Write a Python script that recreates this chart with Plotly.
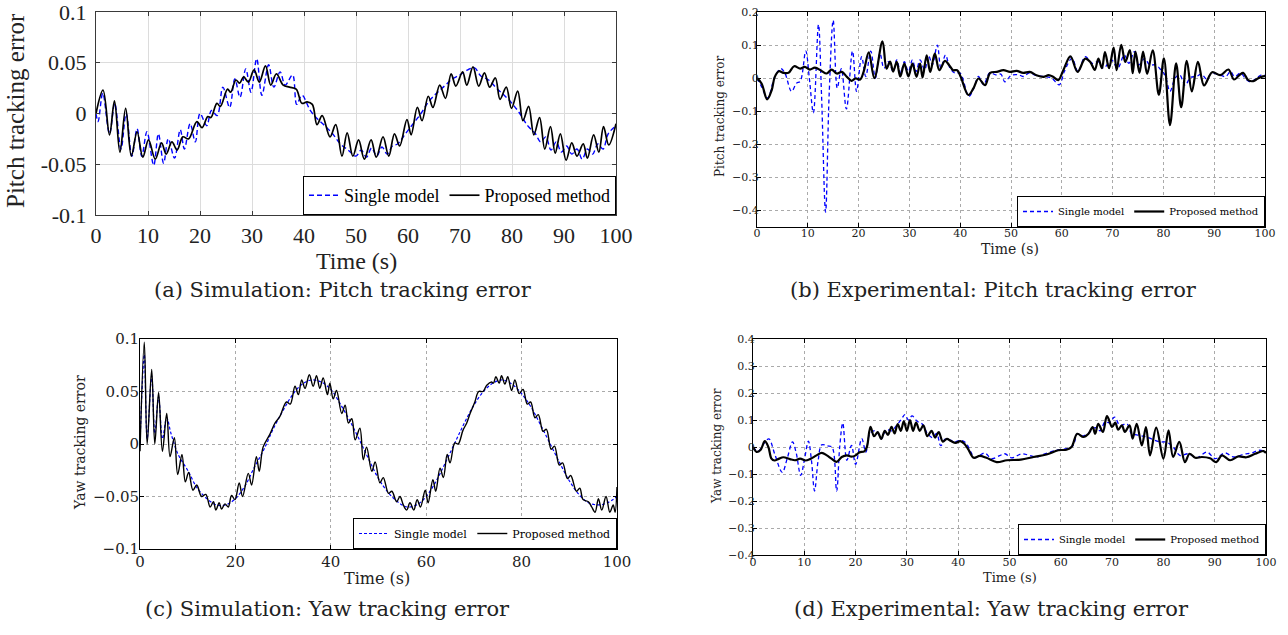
import plotly.graph_objects as go

W, H = 1288, 635
TIMES = "Liberation Serif"
ROMAN = "DejaVu Serif"

# ---------------- data: (time [s], tracking error) ----------------
# (a) simulation, pitch
sim_pitch_single = [
    (0, 0.0), (0.4, -0.008), (1.3, 0.02), (2.6, -0.02), (3.6, 0.01), (4.8, -0.035),
    (5.8, 0.0), (6.9, -0.042), (7.9, -0.015), (8.8, -0.042), (9.8, -0.018), (11.1, -0.051),
    (12.0, -0.020), (13.0, -0.049), (13.9, -0.025), (15.1, -0.044), (16.2, -0.016), (17.0, -0.035),
    (18.1, -0.010), (19.1, -0.028), (20.0, 0.0), (21.3, -0.012), (22.2, 0.003), (23.3, -0.002),
    (24.4, 0.026), (25.7, 0.006), (26.7, 0.034), (27.7, 0.016), (28.8, 0.044), (29.8, 0.021),
    (30.9, 0.054), (31.9, 0.018), (33.2, 0.048), (34.2, 0.026), (35.4, 0.041), (36.4, 0.028),
    (37.8, 0.038), (38.6, 0.009), (39.6, 0.018), (41.2, 0.003), (42.5, -0.005), (44.0, -0.012),
    (45.5, -0.02), (47.0, -0.03), (48.5, -0.036), (50.0, -0.042), (51.0, -0.036), (52.0, -0.043),
    (53.0, -0.034), (54.0, -0.042), (55.0, -0.033), (56.0, -0.04), (57.0, -0.032), (58.0, -0.03),
    (59.5, -0.02), (61.0, -0.01), (62.5, 0.0), (64.0, 0.012), (65.5, 0.02), (67.0, 0.027),
    (68.5, 0.034), (70.0, 0.038), (71.5, 0.043), (72.8, 0.045), (74.0, 0.037), (75.5, 0.033),
    (77.0, 0.025), (78.5, 0.018), (80.0, 0.01), (81.5, 0.0), (83.0, -0.012), (84.5, -0.02),
    (85.5, -0.028), (86.5, -0.023), (87.5, -0.036), (88.5, -0.028), (89.5, -0.038), (90.5, -0.032),
    (91.5, -0.04), (92.5, -0.035), (93.5, -0.045), (94.5, -0.035), (95.5, -0.04), (96.5, -0.03),
    (97.5, -0.035), (98.5, -0.02), (100, -0.012),
]
sim_pitch_proposed = [
    (0, 0.0), (1.35, 0.023), (2.6, -0.021), (3.55, 0.0125), (4.6, -0.038), (5.7, 0.005),
    (6.8, -0.042), (7.9, -0.018), (9.0, -0.043), (10.1, -0.026), (11.4, -0.045), (12.6, -0.029),
    (13.5, -0.040), (14.6, -0.028), (15.6, -0.036), (16.7, -0.023), (17.8, -0.025), (19.4, -0.008),
    (20.4, -0.014), (21.5, -0.003), (22.1, -0.004), (23.25, 0.010), (23.9, 0.007), (25.3, 0.024),
    (25.9, 0.021), (26.9, 0.033), (27.6, 0.030), (28.4, 0.036), (29.3, 0.031), (30.4, 0.043),
    (31.4, 0.031), (32.6, 0.047), (33.6, 0.028), (34.7, 0.039), (36.0, 0.028), (37.2, 0.026),
    (38.5, 0.024), (39.6, 0.010), (40.6, 0.0115), (41.6, 0.009), (42.5, -0.011), (43.5, -0.002),
    (45.0, -0.023), (46.1, -0.011), (47.3, -0.042), (48.3, -0.019), (49.4, -0.042), (50.5, -0.026),
    (51.6, -0.045), (52.9, -0.026), (53.9, -0.043), (55.2, -0.023), (56.3, -0.042), (57.4, -0.020),
    (58.4, -0.032), (59.8, -0.006), (60.6, -0.021), (61.8, 0.006), (62.7, -0.007), (63.9, 0.017),
    (64.8, 0.006), (66.1, 0.028), (67.2, 0.015), (68.3, 0.039), (69.2, 0.027), (70.5, 0.041),
    (71.3, 0.028), (72.5, 0.046), (73.6, 0.027), (74.7, 0.040), (75.7, 0.026), (76.8, 0.035),
    (77.7, 0.014), (78.9, 0.026), (79.9, 0.005), (81.1, 0.022), (82.1, -0.007), (83.2, 0.007),
    (84.2, -0.021), (85.3, -0.004), (86.3, -0.035), (87.4, -0.013), (88.3, -0.039), (89.3, -0.020),
    (90.4, -0.046), (91.5, -0.029), (92.5, -0.042), (93.7, -0.030), (94.5, -0.044), (95.7, -0.021),
    (96.7, -0.038), (97.6, -0.013), (98.6, -0.031), (100, -0.010),
]

# (b) experiment, pitch
exp_pitch_single = [
    (0, 0.0), (0.9, -0.026), (2.1, -0.06), (3.5, 0.004), (4.7, 0.029), (5.5, 0.015),
    (6.8, -0.04), (7.8, -0.015), (8.5, -0.01), (9.6, 0.082), (10.3, 0.0), (11.1, -0.105),
    (12.1, 0.162), (12.7, -0.05), (13.5, -0.405), (14.2, -0.05), (15.0, 0.175), (15.8, -0.03),
    (16.6, 0.029), (17.6, -0.093), (18.8, 0.082), (19.6, -0.04), (20.6, 0.065), (21.4, 0.005),
    (22.4, 0.082), (23.3, 0.0), (24.2, 0.075), (25.0, 0.03), (25.9, 0.05), (26.8, 0.02),
    (27.5, 0.055), (28.3, 0.015), (29.0, 0.05), (29.8, 0.02), (30.6, 0.055), (31.3, 0.02),
    (32.1, 0.055), (33.0, 0.025), (33.8, 0.068), (34.5, 0.04), (35.5, 0.1), (36.2, 0.03),
    (37.1, 0.07), (38.0, 0.03), (39.0, 0.015), (40.0, 0.015), (41.7, -0.055), (42.7, -0.03),
    (43.6, 0.005), (44.6, -0.02), (45.8, 0.016), (47.0, 0.01), (48.0, 0.012), (48.8, -0.011),
    (50.0, 0.008), (51.5, 0.01), (52.5, 0.005), (53.5, 0.015), (55.0, 0.008), (56.5, 0.005),
    (58.0, 0.0), (59.5, -0.02), (60.5, 0.02), (62.0, 0.06), (63.2, 0.02), (64.6, 0.065),
    (66.0, 0.045), (67.2, 0.05), (68.2, 0.03), (69.8, 0.055), (71.0, 0.03), (72.3, 0.07),
    (73.2, 0.045), (74.3, 0.08), (75.2, 0.04), (76.3, 0.06), (77.3, 0.04), (78.5, 0.04),
    (79.5, 0.025), (80.3, 0.01), (81.3, -0.04), (82.3, 0.0), (83.2, 0.01), (84.3, -0.022),
    (85.3, 0.002), (86.5, 0.005), (87.5, 0.012), (88.5, -0.002), (89.5, 0.015), (91.0, 0.01),
    (92.3, 0.005), (93.2, 0.02), (94.0, 0.005), (95.2, 0.015), (96.2, -0.002), (97.2, -0.012),
    (98.3, 0.0), (99.3, 0.01), (100, 0.008),
]
exp_pitch_proposed = [
    (0, 0.0), (0.9, -0.016), (2.0, -0.064), (2.9, -0.036), (3.5, 0.004), (4.3, 0.021),
    (5.2, 0.016), (6.2, 0.016), (7.3, 0.036), (8.5, 0.029), (9.4, 0.034), (10.4, 0.026),
    (11.4, 0.032), (12.7, 0.022), (13.7, 0.014), (14.7, 0.026), (15.7, 0.014), (16.7, 0.019),
    (17.7, 0.004), (18.6, -0.008), (19.4, -0.001), (20.3, -0.004), (21.0, 0.02), (22.0, 0.078),
    (23.1, 0.0), (24.7, 0.111), (25.5, 0.029), (26.2, 0.05), (26.8, 0.02), (27.5, 0.049),
    (28.2, 0.005), (29.0, 0.044), (29.8, 0.005), (30.6, 0.044), (31.4, 0.004), (32.1, 0.044),
    (32.6, 0.002), (33.4, 0.069), (34.1, 0.019), (35.0, 0.074), (35.9, 0.024), (37.0, 0.052),
    (37.8, 0.04), (38.6, 0.024), (39.4, 0.024), (40.1, 0.004), (41.6, -0.051), (42.6, -0.031),
    (43.6, -0.001), (44.9, -0.021), (45.9, 0.016), (47.2, 0.019), (48.5, 0.024), (49.8, 0.019),
    (51.1, 0.022), (52.4, 0.016), (53.7, 0.019), (55.0, 0.009), (56.4, 0.004), (57.4, 0.009),
    (58.3, 0.004), (59.3, -0.006), (60.3, 0.024), (61.7, 0.066), (63.1, 0.019), (64.6, 0.059),
    (65.6, 0.049), (66.5, 0.025), (67.2, 0.059), (67.9, 0.03), (68.5, 0.079), (69.3, 0.03),
    (70.2, 0.092), (70.8, 0.024), (71.7, 0.101), (72.5, 0.049), (73.4, 0.085), (73.95, 0.015),
    (74.5, 0.08), (75.3, 0.016), (76.0, 0.08), (76.8, 0.013), (77.9, 0.084), (79.1, -0.05),
    (80.1, 0.06), (81.3, -0.142), (82.5, 0.045), (83.5, -0.088), (84.6, 0.052), (85.6, -0.04),
    (86.8, 0.049), (88.0, -0.022), (89.6, 0.018), (91.2, 0.009), (92.8, 0.026), (93.9, -0.004),
    (95.0, 0.01), (95.7, 0.016), (96.7, -0.006), (97.7, -0.009), (98.5, -0.002), (99.3, 0.004),
    (100, 0.006),
]

# (c) simulation, yaw
sim_yaw_single = [
    (0, 0.0), (0.9, 0.085), (1.5, 0.005), (2.45, 0.065), (3.1, 0.01), (3.9, 0.045),
    (4.7, 0.005), (5.6, 0.025), (6.5, 0.01), (8.0, -0.01), (10.0, -0.025), (12.0, -0.042),
    (14.0, -0.052), (16.0, -0.058), (18.0, -0.058), (20.0, -0.052), (22.0, -0.04), (24.0, -0.022),
    (26.0, -0.005), (28.0, 0.015), (30.0, 0.032), (32.0, 0.047), (34.0, 0.057), (36.0, 0.061),
    (38.0, 0.059), (40.0, 0.052), (42.0, 0.038), (44.0, 0.022), (46.0, 0.004), (48.0, -0.015),
    (50.0, -0.033), (52.0, -0.046), (54.0, -0.055), (56.0, -0.06), (58.0, -0.058), (60.0, -0.05),
    (62.0, -0.036), (64.0, -0.018), (66.0, 0.001), (68.0, 0.02), (70.0, 0.037), (72.0, 0.05),
    (74.0, 0.058), (76.0, 0.061), (78.0, 0.057), (80.0, 0.048), (82.0, 0.035), (84.0, 0.018),
    (86.0, 0.0), (88.0, -0.018), (90.0, -0.035), (92.0, -0.048), (94.0, -0.056), (96.0, -0.058),
    (98.0, -0.056), (100, -0.05),
]
sim_yaw_proposed = [
    (0, -0.007), (0.9, 0.097), (1.5, 0.0), (2.45, 0.071), (3.1, 0.0), (3.9, 0.049),
    (4.7, -0.007), (5.6, 0.029), (6.3, -0.012), (7.2, 0.006), (7.9, -0.029), (8.8, -0.010),
    (9.5, -0.036), (10.2, -0.027), (11.1, -0.044), (11.9, -0.039), (12.9, -0.050), (13.8, -0.048),
    (14.7, -0.060), (15.4, -0.055), (15.9, -0.063), (16.6, -0.056), (17.1, -0.062), (17.8, -0.057),
    (18.5, -0.060), (19.2, -0.049), (19.9, -0.053), (20.8, -0.037), (21.5, -0.050), (22.7, -0.028),
    (23.4, -0.039), (24.4, -0.012), (25.0, -0.026), (25.8, -0.003), (27.2, 0.009), (28.3, 0.02),
    (29.3, 0.026), (30.7, 0.040), (31.5, 0.038), (32.5, 0.055), (33.2, 0.047), (33.9, 0.061),
    (34.6, 0.053), (35.5, 0.066), (36.3, 0.055), (37.0, 0.065), (37.7, 0.053), (38.4, 0.063),
    (39.3, 0.047), (39.8, 0.058), (40.5, 0.043), (41.2, 0.051), (42.3, 0.029), (43.0, 0.037),
    (43.7, 0.020), (44.4, 0.024), (45.1, 0.004), (46.1, 0.015), (46.8, -0.015), (47.5, -0.003),
    (48.6, -0.026), (49.3, -0.017), (50.3, -0.037), (51.0, -0.032), (52.1, -0.047), (52.8, -0.045),
    (53.8, -0.055), (54.5, -0.050), (55.2, -0.058), (55.9, -0.063), (56.6, -0.056), (57.4, -0.063),
    (58.1, -0.053), (58.8, -0.060), (59.8, -0.044), (60.4, -0.056), (61.4, -0.034), (62.0, -0.045),
    (62.9, -0.023), (63.6, -0.032), (64.4, -0.010), (65.0, -0.018), (66.0, 0.001), (66.7, 0.0),
    (67.7, 0.013), (68.5, 0.02), (69.2, 0.029), (70.2, 0.04), (71.0, 0.050), (71.9, 0.05),
    (72.7, 0.056), (73.7, 0.059), (74.1, 0.058), (74.6, 0.064), (75.3, 0.058), (75.8, 0.065),
    (76.5, 0.057), (77.1, 0.064), (77.9, 0.051), (78.6, 0.061), (79.5, 0.048), (80.3, 0.052),
    (81.2, 0.038), (81.9, 0.040), (82.8, 0.025), (83.5, 0.028), (84.5, 0.012), (85.2, 0.014),
    (86.2, -0.005), (86.9, -0.002), (87.9, -0.02), (88.6, -0.018), (89.6, -0.033), (90.3, -0.030),
    (91.5, -0.045), (92.2, -0.042), (92.9, -0.053), (94.0, -0.055), (94.7, -0.060), (95.4, -0.065),
    (96.1, -0.052), (96.8, -0.063), (97.7, -0.050), (98.5, -0.065), (99.2, -0.058), (99.6, -0.065),
    (100, -0.041),
]

# (d) experiment, yaw
exp_yaw_single = [
    (0, 0.0), (1.0, -0.015), (2.2, 0.015), (3.1, 0.03), (4.3, -0.03), (5.7, -0.094),
    (6.7, -0.04), (7.7, 0.019), (8.4, -0.02), (9.3, -0.105), (10.0, -0.05), (10.8, 0.022),
    (11.4, -0.05), (12.0, -0.163), (12.7, -0.05), (13.4, 0.008), (14.5, 0.004), (15.4, 0.0),
    (16.3, -0.163), (16.9, 0.0), (17.5, 0.089), (18.3, -0.049), (19.2, 0.006), (20.0, -0.064),
    (21.2, 0.031), (22.0, -0.019), (22.8, 0.05), (24.0, 0.06), (25.0, 0.03), (26.0, 0.065),
    (27.0, 0.06), (28.0, 0.08), (29.0, 0.105), (29.6, 0.12), (30.3, 0.1), (31.0, 0.115),
    (32.0, 0.095), (33.0, 0.085), (34.0, 0.05), (35.0, 0.035), (35.8, 0.05), (36.6, 0.005),
    (37.5, 0.03), (38.5, 0.025), (39.5, 0.02), (40.5, 0.025), (41.5, 0.015), (42.5, -0.02),
    (43.2, -0.04), (44.2, -0.031), (45.2, -0.022), (46.5, -0.043), (48.1, -0.032), (49.1, -0.025),
    (50.4, -0.040), (52.4, -0.025), (53.7, -0.03), (55.3, -0.037), (56.9, -0.025), (59.2, -0.012),
    (61.1, -0.006), (62.4, 0.005), (63.2, 0.049), (64.1, 0.04), (65.3, 0.05), (66.7, 0.072),
    (67.7, 0.06), (68.6, 0.093), (69.5, 0.09), (70.5, 0.111), (71.5, 0.08), (72.9, 0.086),
    (73.8, 0.049), (74.8, 0.045), (76.7, 0.037), (79.3, 0.019), (80.6, 0.018), (81.9, 0.0),
    (83.2, -0.031), (84.9, -0.025), (86.5, -0.04), (88.5, -0.019), (90.1, -0.043), (92.0, -0.022),
    (93.7, -0.037), (95.6, -0.027), (97.2, -0.022), (98.7, -0.012), (100, -0.018),
]
exp_yaw_proposed = [
    (0, 0.0), (0.7, -0.018), (1.5, -0.01), (2.3, 0.022), (3.0, 0.0), (3.6, -0.043),
    (4.2, -0.05), (5.0, -0.044), (5.9, -0.038), (7.2, -0.045), (8.2, -0.049), (9.2, -0.043),
    (10.2, -0.05), (11.2, -0.044), (12.4, -0.031), (13.4, -0.022), (14.4, -0.031), (15.3, -0.043),
    (16.3, -0.055), (17.3, -0.037), (18.3, -0.031), (19.2, -0.036), (20.0, -0.031), (20.7, -0.02),
    (21.7, -0.016), (22.2, 0.0), (22.9, 0.075), (23.6, 0.04), (24.3, 0.055), (25.0, 0.03),
    (25.7, 0.06), (26.3, 0.045), (27.0, 0.075), (27.6, 0.05), (28.2, 0.085), (28.8, 0.06),
    (29.4, 0.095), (30.0, 0.06), (30.6, 0.1), (31.2, 0.06), (31.8, 0.09), (32.5, 0.06),
    (33.2, 0.08), (34.0, 0.04), (34.8, 0.06), (35.5, 0.035), (36.2, 0.055), (37.0, 0.02),
    (37.8, 0.03), (38.6, 0.022), (39.5, 0.015), (40.4, 0.022), (41.2, 0.012), (42.0, -0.01),
    (43.0, -0.04), (44.2, -0.033), (45.5, -0.04), (47.5, -0.056), (49.5, -0.049), (52.2, -0.047),
    (54.7, -0.037), (57.2, -0.028), (59.5, -0.012), (61.1, -0.01), (62.1, 0.0), (63.2, 0.049),
    (64.4, 0.037), (65.4, 0.049), (66.2, 0.074), (66.7, 0.049), (67.3, 0.086), (68.2, 0.056),
    (69.0, 0.114), (70.0, 0.074), (70.6, 0.09), (71.2, 0.064), (71.9, 0.08), (72.5, 0.056),
    (73.4, 0.08), (74.0, 0.031), (74.8, 0.086), (75.8, 0.006), (76.6, 0.074), (77.4, -0.031),
    (78.6, 0.072), (80.0, -0.043), (81.0, 0.062), (81.9, -0.037), (83.1, 0.019), (84.2, -0.056),
    (85.1, -0.025), (86.2, -0.04), (87.5, -0.037), (89.1, -0.042), (90.3, -0.056), (91.4, -0.031),
    (93.0, -0.049), (94.6, -0.035), (96.2, -0.038), (97.9, -0.025), (99.5, -0.015), (100, -0.022),
]

series_names = ["Single model", "Proposed method"]

time_ticks_10 = [0, 10, 20, 30, 40, 50, 60, 70, 80, 90, 100]
time_ticks_20 = [0, 20, 40, 60, 80, 100]
sim_pitch_ticks = [-0.1, -0.05, 0, 0.05, 0.1]
sim_pitch_ticktext = ["-0.1", "-0.05", "0", "0.05", "0.1"]
exp_pitch_ticks = [-0.4, -0.3, -0.2, -0.1, 0, 0.1, 0.2]
exp_pitch_ticktext = ["\u22120.4", "\u22120.3", "\u22120.2", "\u22120.1", "0", "0.1", "0.2"]
sim_yaw_ticks = [-0.1, -0.05, 0, 0.05, 0.1]
sim_yaw_ticktext = ["\u22120.1", "\u22120.05", "0", "0.05", "0.1"]
exp_yaw_ticks = [-0.4, -0.3, -0.2, -0.1, 0, 0.1, 0.2, 0.3, 0.4]
exp_yaw_ticktext = ["\u22120.4", "\u22120.3", "\u22120.2", "\u22120.1", "0",
                    "0.1", "0.2", "0.3", "0.4"]

captions = [
    "(a) Simulation: Pitch tracking error",
    "(b) Experimental: Pitch tracking error",
    "(c) Simulation: Yaw tracking error",
    "(d) Experimental: Yaw tracking error",
]
y_titles = ["Pitch tracking error", "Pitch tracking error",
            "Yaw tracking error", "Yaw tracking error"]
x_title = "Time (s)"

# ---------------- layout of the four panels (pixel boxes) ----------------
panels = [
    dict(box=(96, 616, 12, 215), single=sim_pitch_single, proposed=sim_pitch_proposed,
         yrange=[-0.1, 0.1], yticks=sim_pitch_ticks, ytext=sim_pitch_ticktext,
         xticks=time_ticks_10, font=TIMES, tick_size=22, xstand=1, ystand=4,
         grid_color="#dcdcdc", grid_dash="solid",
         frame="#3a3a3a", black_w=1.7, blue_w=1.4, blue_dash="5px,3px",
         ytitle_pos=(16, 111), ytitle_size=25, xtitle_pos=(356, 261), xtitle_size=24,
         legend_size=18, caption_pos=(343, 290)),
    dict(box=(757, 1265, 12, 227), single=exp_pitch_single, proposed=exp_pitch_proposed,
         yrange=[-0.45, 0.2], yticks=exp_pitch_ticks, ytext=exp_pitch_ticktext,
         xticks=time_ticks_10, font=ROMAN, tick_size=11, xstand=-4, ystand=-5,
         grid_color="#aaaaaa", grid_dash="dot",
         frame="#000000", black_w=2.2, blue_w=1.3, blue_dash="4px,3px",
         ytitle_pos=(720, 116), ytitle_size=12, xtitle_pos=(1010, 249), xtitle_size=14,
         legend_size=10, caption_pos=(993, 290)),
    dict(box=(140, 617, 339, 549), single=sim_yaw_single, proposed=sim_yaw_proposed,
         yrange=[-0.1, 0.1], yticks=sim_yaw_ticks, ytext=sim_yaw_ticktext,
         xticks=time_ticks_20, font=ROMAN, tick_size=15, xstand=-1, ystand=-3,
         grid_color="#aaaaaa", grid_dash="dot",
         frame="#000000", black_w=1.4, blue_w=1.2, blue_dash="3px,2px",
         ytitle_pos=(80, 443), ytitle_size=14, xtitle_pos=(377, 578), xtitle_size=16,
         legend_size=11, caption_pos=(327, 609)),
    dict(box=(753, 1266, 339, 555), single=exp_yaw_single, proposed=exp_yaw_proposed,
         yrange=[-0.4, 0.4], yticks=exp_yaw_ticks, ytext=exp_yaw_ticktext,
         xticks=time_ticks_10, font=ROMAN, tick_size=11, xstand=-3, ystand=-5,
         grid_color="#aaaaaa", grid_dash="dot",
         frame="#000000", black_w=2.2, blue_w=1.3, blue_dash="4px,3px",
         ytitle_pos=(717, 446), ytitle_size=12, xtitle_pos=(1010, 577), xtitle_size=13,
         legend_size=10, caption_pos=(991, 609)),
]


def px_x(px):
    return px / W


def px_y(py):
    return 1 - py / H


fig = go.Figure()
annotations = []
layout = dict(
    width=W, height=H, margin=dict(l=0, r=0, t=0, b=0, autoexpand=False),
    paper_bgcolor="white", plot_bgcolor="white",
    font=dict(family=ROMAN, color="#222222"),
)

for i, p in enumerate(panels):
    n = "" if i == 0 else str(i + 1)
    x0, x1, y0, y1 = p["box"]
    legend_key = "legend" + n

    for name, data, color, width, dash in (
        (series_names[0], p["single"], "#0000ff", p["blue_w"], p["blue_dash"]),
        (series_names[1], p["proposed"], "#000000", p["black_w"], "solid"),
    ):
        fig.add_trace(go.Scatter(
            x=[d[0] for d in data], y=[d[1] for d in data],
            mode="lines", name=name,
            line=dict(color=color, width=width, dash=dash, shape="spline", smoothing=1.0),
            xaxis="x" + n, yaxis="y" + n, legend=legend_key,
        ))

    axis_common = dict(
        showline=True, linecolor=p["frame"], linewidth=1, mirror="ticks",
        ticks="inside", ticklen=4, tickcolor=p["frame"], automargin=False,
        ticklabeloverflow="allow",
        showgrid=True, gridcolor=p["grid_color"], griddash=p["grid_dash"], gridwidth=1,
        zeroline=False, tickfont=dict(family=p["font"], size=p["tick_size"], color="#222222"),
    )
    layout["xaxis" + n] = dict(
        axis_common, domain=[px_x(x0), px_x(x1)], range=[0, 100],
        tickvals=p["xticks"], ticktext=[str(v) for v in p["xticks"]],
        ticklabelstandoff=p["xstand"], anchor="y" + n,
    )
    layout["yaxis" + n] = dict(
        axis_common, domain=[px_y(y1), px_y(y0)], range=p["yrange"],
        tickvals=p["yticks"], ticktext=p["ytext"],
        ticklabelstandoff=p["ystand"], anchor="x" + n,
    )
    layout[legend_key] = dict(
        x=px_x(x1), y=px_y(y1), xanchor="right", yanchor="bottom",
        orientation="h", bgcolor="white", bordercolor="#000000", borderwidth=1,
        font=dict(family=p["font"], size=p["legend_size"], color="#000000"),
        itemwidth=30, tracegroupgap=0,
    )

    tx, ty = p["ytitle_pos"]
    annotations.append(dict(
        text=y_titles[i], x=px_x(tx), y=px_y(ty), xref="paper", yref="paper",
        textangle=-90, showarrow=False, xanchor="center", yanchor="middle",
        font=dict(family=p["font"], size=p["ytitle_size"], color="#222222"),
    ))
    tx, ty = p["xtitle_pos"]
    annotations.append(dict(
        text=x_title, x=px_x(tx), y=px_y(ty), xref="paper", yref="paper",
        showarrow=False, xanchor="center", yanchor="middle",
        font=dict(family=p["font"], size=p["xtitle_size"], color="#222222"),
    ))
    tx, ty = p["caption_pos"]
    annotations.append(dict(
        text=captions[i], x=px_x(tx), y=px_y(ty), xref="paper", yref="paper",
        showarrow=False, xanchor="center", yanchor="middle",
        font=dict(family=ROMAN, size=21, color="#222222"),
    ))

layout["annotations"] = annotations
fig.update_layout(**layout)
fig.write_html("out.html")
